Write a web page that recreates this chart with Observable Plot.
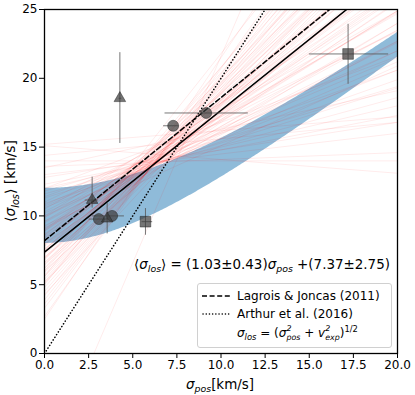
<!DOCTYPE html>
<html><head><meta charset="utf-8">
<script src="https://cdn.jsdelivr.net/npm/d3@7"></script>
<script src="https://cdn.jsdelivr.net/npm/@observablehq/plot@0.6"></script>
<style>
body{margin:0;background:#fff;font-family:"DejaVu Sans",sans-serif;}
#wrap{position:relative;width:415px;height:395px;}
.ov{position:absolute;white-space:nowrap;color:#000;}
sub,sup{font-size:70%;line-height:0;}
i{font-style:italic;}
.stk{display:inline-block;font-size:66%;line-height:1.2;vertical-align:-0.42em;font-style:italic;}
.stk>span{display:block;height:1.2em;}
</style></head><body>
<div id="wrap"></div>
<script>
// observed points
const circX = [3.08, 3.83, 7.29, 9.16];
const circY = [9.77, 10.0, 16.55, 17.48];
const circXlo = [2.5, 2.7, 6.72, 6.8];
const circXhi = [3.6, 4.5, 7.6, 11.52];
const circYlo = [9.77, 10.0, 16.55, 17.48];
const circYhi = [9.77, 10.0, 16.55, 17.48];

const triX = [2.70, 4.27, 3.55];
const triY = [11.15, 18.55, 9.8];
const triXlo = [2.28, 4.2, 3.5];
const triXhi = [3.02, 4.35, 3.6];
const triYlo = [10.6, 15.3, 8.73];
const triYhi = [12.85, 21.9, 10.94];

const sqX = [5.72, 17.2];
const sqY = [9.58, 21.77];
const sqXlo = [5.5, 14.98];
const sqXhi = [6.1, 19.47];
const sqYlo = [8.63, 19.6];
const sqYhi = [10.57, 23.96];

// fit and reference relations (slope, intercept)
const fitLine = [1.03, 7.37];
const lagrois = [1.04, 8.2];
const arthur = [2.0, 0.0];
// expansion velocity range for model band
const vExp = [8, 12];
// sampled fits (slope, intercept) read from the faint red fan
const sampSlope = [1.03,0.95,1.10,0.85,1.20,0.75,1.30,0.65,1.40,0.55,1.50,0.45,1.60,0.35,1.70,0.25,1.80,0.15,0.05,0.00,
  0.90,1.00,1.05,0.80,1.15,0.70,1.25,0.60,1.35,0.50,1.45,0.40,1.55,0.30,1.65,0.20,1.12,0.98,0.88,1.18,
  0.78,1.28,0.68,1.08,0.92,0.82,1.22,0.72,1.02,1.38,3.00,0.10,-0.10,0.12,0.28,1.90,1.58,0.62,1.32,0.48,
  0.58,1.42,0.86,1.14,0.38,1.62,0.96,1.06,0.76,1.16,0.66,1.26,0.56,1.36,0.46,1.48,0.84,0.94,1.04,0.74,
  1.24,0.64,1.34,0.54,1.44,0.89,0.99,1.09,0.79,1.19];
const sampInt = [7.4,7.9,6.9,8.5,6.2,9.0,5.6,9.6,5.1,10.2,4.5,10.9,3.9,11.6,3.3,12.3,2.7,13.0,13.6,14.0,
  8.3,7.6,7.0,8.9,6.6,9.5,5.9,10.0,5.4,10.6,4.8,11.3,4.2,12.0,3.6,12.8,7.2,7.8,8.0,6.0,
  8.4,5.2,9.1,6.5,9.0,10.0,7.5,10.5,8.6,4.3,-8.4,15.2,15.1,14.4,13.5,2.5,5.0,11.0,6.8,12.0,
  9.3,6.2,8.7,7.9,11.8,5.6,8.4,7.6,9.6,7.3,10.3,6.9,10.8,6.4,11.4,6.0,9.2,8.9,8.1,9.9,
  6.6,9.9,5.7,10.7,5.2,8.6,8.2,7.5,9.1,7.0];
const xTicks = [0, 2.5, 5, 7.5, 10, 12.5, 15, 17.5, 20];
const yTicks = [0, 5, 10, 15, 20, 25];

const xs = d3.range(0, 20.01, 0.1);
const band = xs.map(x => ({x, lo: Math.sqrt(x*x + vExp[0]**2), hi: Math.sqrt(x*x + vExp[1]**2)}));
const seg = (p, k) => [{x:0, y:p[1], k}, {x:20, y:p[0]*20 + p[1], k}];
const samples = sampSlope.flatMap((a, i) => seg([a, sampInt[i]], i));
const pts = (X, Y, xl, xh, yl, yh) => X.map((x, i) => ({x, y: Y[i], xl: xl[i], xh: xh[i], yl: yl[i], yh: yh[i]}));
const circ = pts(circX, circY, circXlo, circXhi, circYlo, circYhi);
const tri = pts(triX, triY, triXlo, triXhi, triYlo, triYhi);
const sq = pts(sqX, sqY, sqXlo, sqXhi, sqYlo, sqYhi);
const all = [...circ, ...tri, ...sq];

const chart = Plot.plot({
  width: 415, height: 395,
  marginLeft: 44, marginRight: 18, marginTop: 9, marginBottom: 42,
  style: {fontFamily: "DejaVu Sans", fontSize: "12px", color: "#000", background: "white"},
  x: {domain: [0, 20]},
  y: {domain: [0, 25]},
  marks: [
    Plot.areaY(band, {x: "x", y1: "lo", y2: "hi", fill: "#1f77b4", fillOpacity: 0.5, clip: true}),
    Plot.line(samples, {x: "x", y: "y", z: "k", stroke: "red", strokeOpacity: 0.1, strokeWidth: 0.8, clip: true}),
    Plot.line(seg(arthur, 0), {x: "x", y: "y", stroke: "black", strokeWidth: 1.6, strokeDasharray: "0.1,3.1", strokeLinecap: "round", clip: true}),
    Plot.line(seg(lagrois, 0), {x: "x", y: "y", stroke: "black", strokeWidth: 1.5, strokeDasharray: "5,2.6", clip: true}),
    Plot.line(seg(fitLine, 0), {x: "x", y: "y", stroke: "black", strokeWidth: 1.5, clip: true}),
    Plot.link(all, {x1: "xl", x2: "xh", y1: "y", y2: "y", stroke: "#555", strokeOpacity: 0.8, strokeWidth: 1}),
    Plot.link(all, {x1: "x", x2: "x", y1: "yl", y2: "yh", stroke: "#555", strokeOpacity: 0.8, strokeWidth: 1}),
    Plot.dot(circ, {x: "x", y: "y", r: 5.5, symbol: "circle", fill: "#3a3a3a", fillOpacity: 0.7, stroke: "#222", strokeOpacity: 0.6, strokeWidth: 0.8}),
    Plot.dot(tri, {x: "x", y: "y", r: 4.3, symbol: "triangle", fill: "#3a3a3a", fillOpacity: 0.7, stroke: "#222", strokeOpacity: 0.6, strokeWidth: 0.8}),
    Plot.dot(sq, {x: "x", y: "y", r: 6, symbol: "square", fill: "#3a3a3a", fillOpacity: 0.7, stroke: "#222", strokeOpacity: 0.6, strokeWidth: 0.8}),
    Plot.axisX({ticks: xTicks, tickFormat: d3.format(".1f"), tickSize: 5, tickPadding: 2, label: null}),
    Plot.axisY({ticks: yTicks, tickFormat: d3.format("d"), tickSize: 5, tickPadding: 2, label: null}),
    Plot.frame({stroke: "black", strokeWidth: 1.3})
  ]
});
const wrap = document.getElementById("wrap");
wrap.appendChild(chart);

function ov(html, style) {
  const d = document.createElement("div");
  d.className = "ov";
  d.innerHTML = html;
  Object.assign(d.style, style);
  wrap.appendChild(d);
  return d;
}
// fit a text's length to a target by scaling its font size
function fitLen(el, target) {
  const w = el.getBoundingClientRect().width;
  const fs = parseFloat(el.style.fontSize);
  if (w > 0) el.style.fontSize = (fs * target / w).toFixed(2) + "px";
}
// y label
const yl = ov("⟨<i>σ</i><sub><i>los</i></sub>⟩ [km/s]", {left: "10px", top: "181px", fontSize: "12px"});
fitLen(yl, 82);
yl.style.transform = "translate(-50%,-50%) rotate(-90deg)";
// x label
const xl = ov("<i>σ</i><sub><i>pos</i></sub>[km/s]", {left: "220px", top: "384px", fontSize: "12px"});
fitLen(xl, 68);
xl.style.transform = "translate(-50%,-50%)";
// equation
const eq = ov("⟨<i>σ</i><sub><i>los</i></sub>⟩ = (1.03±0.43)<i>σ</i><sub><i>pos</i></sub> +(7.37±2.75)", {left: "134px", top: "264px", fontSize: "12.5px"});
fitLen(eq, 256);
eq.style.transform = "translateY(-50%)";
// legend
const lg = ov(`
<div style="display:flex;align-items:center;height:18px"><svg width="28" height="10" style="margin-right:7px"><line x1="0" y1="5" x2="28" y2="5" stroke="black" stroke-width="1.5" stroke-dasharray="5,2.6"/></svg>Lagrois &amp; Joncas (2011)</div>
<div style="display:flex;align-items:center;height:18px"><svg width="28" height="10" style="margin-right:7px"><line x1="1" y1="5" x2="28" y2="5" stroke="black" stroke-width="1.5" stroke-dasharray="0.1,3.1" stroke-linecap="round"/></svg>Arthur et al. (2016)</div>
<div style="height:21px;padding-left:35px;line-height:21px"><i>σ</i><sub><i>los</i></sub> = (<i>σ</i><span class="stk"><span>2</span><span>pos</span></span> + <i>v</i><span class="stk"><span>2</span><span>exp</span></span>)<sup>1/2</sup></div>`,
 {left: "197px", top: "283px", width: "185px", height: "57px", padding: "3px 4px", fontSize: "12px",
  border: "1px solid #d0d0d0", borderRadius: "3px", background: "rgba(255,255,255,0.8)"});
</script>
</body></html>
